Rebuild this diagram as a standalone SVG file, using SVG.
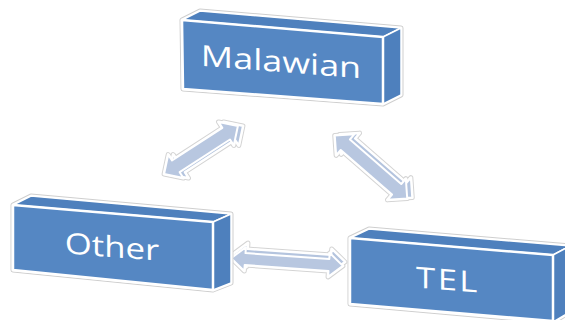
<svg xmlns="http://www.w3.org/2000/svg" width="565" height="320" viewBox="0 0 565 320">
<defs>
<style>
.sil{fill:#4A7BB8;stroke:#cfcfcf;stroke-width:5;stroke-linejoin:round}
.sil2{fill:none;stroke:#ffffff;stroke-width:3;stroke-linejoin:round}
.side{fill:#4E80BD;stroke:#ffffff;stroke-width:1.5;stroke-linejoin:round}
.front{fill:#5587C3;stroke:#ffffff;stroke-width:2.5;stroke-linejoin:round}
.lbl{fill:#ffffff;font-family:"Open Sans","DejaVu Sans",sans-serif;font-size:29px;text-anchor:middle}
.aback{fill:#B4C4DE;stroke:#ffffff;stroke-width:2;stroke-linejoin:round}
.afront{fill:#B8C7E0;stroke:#ffffff;stroke-width:2;stroke-linejoin:round}
.aout{fill:#ffffff;stroke:#d4d4d4;stroke-width:5;stroke-linejoin:round}
.aw{fill:#ffffff;stroke:#ffffff;stroke-width:3;stroke-linejoin:round}
</style>
</defs>

<g id="connectors">
  <g id="arrow-malawian-other">
    <polygon class="aout" transform="translate(206,150) rotate(-33)" points="-44,0 -30,-14 -30,-7 30,-7 30,-14 44,0 30,14 30,7 -30,7 -30,14"/>
    <polygon class="aout" transform="translate(201,150) rotate(-33)" points="-44,0 -30,-14 -30,-7 30,-7 30,-14 44,0 30,14 30,7 -30,7 -30,14"/>
    <polygon class="aw" transform="translate(206,150) rotate(-33)" points="-44,0 -30,-14 -30,-7 30,-7 30,-14 44,0 30,14 30,7 -30,7 -30,14"/>
    <polygon class="aw" transform="translate(201,150) rotate(-33)" points="-44,0 -30,-14 -30,-7 30,-7 30,-14 44,0 30,14 30,7 -30,7 -30,14"/>
    <polygon class="aback" transform="translate(206,150) rotate(-33)" points="-44,0 -30,-14 -30,-7 30,-7 30,-14 44,0 30,14 30,7 -30,7 -30,14"/>
    <polygon class="afront" transform="translate(201,150) rotate(-33)" points="-44,0 -30,-14 -30,-7 30,-7 30,-14 44,0 30,14 30,7 -30,7 -30,14"/>
  </g>
  <g id="arrow-malawian-tel">
    <polygon class="aout" transform="translate(376,166) rotate(41)" points="-48,0 -34,-14 -34,-7 34,-7 34,-14 48,0 34,14 34,7 -34,7 -34,14"/>
    <polygon class="aout" transform="translate(371,167) rotate(41)" points="-48,0 -34,-14 -34,-7 34,-7 34,-14 48,0 34,14 34,7 -34,7 -34,14"/>
    <polygon class="aw" transform="translate(376,166) rotate(41)" points="-48,0 -34,-14 -34,-7 34,-7 34,-14 48,0 34,14 34,7 -34,7 -34,14"/>
    <polygon class="aw" transform="translate(371,167) rotate(41)" points="-48,0 -34,-14 -34,-7 34,-7 34,-14 48,0 34,14 34,7 -34,7 -34,14"/>
    <polygon class="aback" transform="translate(376,166) rotate(41)" points="-48,0 -34,-14 -34,-7 34,-7 34,-14 48,0 34,14 34,7 -34,7 -34,14"/>
    <polygon class="afront" transform="translate(371,167) rotate(41)" points="-48,0 -34,-14 -34,-7 34,-7 34,-14 48,0 34,14 34,7 -34,7 -34,14"/>
  </g>
  <g id="arrow-other-tel">
    <polygon class="aout" transform="translate(289,258) rotate(4)" points="-56,0 -42,-12 -42,-6 42,-6 42,-12 56,0 42,12 42,6 -42,6 -42,12"/>
    <polygon class="aout" transform="translate(287,262) rotate(4)" points="-56,0 -42,-12 -42,-6 42,-6 42,-12 56,0 42,12 42,6 -42,6 -42,12"/>
    <polygon class="aw" transform="translate(289,258) rotate(4)" points="-56,0 -42,-12 -42,-6 42,-6 42,-12 56,0 42,12 42,6 -42,6 -42,12"/>
    <polygon class="aw" transform="translate(287,262) rotate(4)" points="-56,0 -42,-12 -42,-6 42,-6 42,-12 56,0 42,12 42,6 -42,6 -42,12"/>
    <polygon class="aback" transform="translate(289,258) rotate(4)" points="-56,0 -42,-12 -42,-6 42,-6 42,-12 56,0 42,12 42,6 -42,6 -42,12"/>
    <polygon class="afront" transform="translate(287,262) rotate(4)" points="-56,0 -42,-12 -42,-6 42,-6 42,-12 56,0 42,12 42,6 -42,6 -42,12"/>
  </g>
</g>

<g id="node-malawian">
  <polygon class="sil" points="182,20 200,11 401,28 401,95 383,104 183,89"/>
  <polygon class="sil2" points="182,20 200,11 401,28 401,95 383,104 183,89"/>
  <polygon class="side" points="182,20 200,11 401,28 383,37"/>
  <polygon class="side" points="383,37 401,28 401,95 383,104"/>
  <polygon class="front" points="182,20 383,37 383,104 183,89"/>
  <text class="lbl" transform="translate(281,72) skewY(4.5) scale(1.24,1)" x="0" y="0">Malawian</text>
</g>

<g id="node-other">
  <polygon class="sil" points="13,205 31,196 231,214 231,283 213,290 13,270"/>
  <polygon class="sil2" points="13,205 31,196 231,214 231,283 213,290 13,270"/>
  <polygon class="side" points="13,205 31,196 231,214 213,222"/>
  <polygon class="side" points="213,222 231,214 231,283 213,290"/>
  <polygon class="front" points="13,205 213,222 213,290 13,270"/>
  <text class="lbl" transform="translate(112,257) skewY(4.5) scale(1.2,1)" x="0" y="0">Other</text>
</g>

<g id="node-tel">
  <polygon class="sil" points="350,238 369,229 570,246 570,312 553,322 350,304"/>
  <polygon class="sil2" points="350,238 369,229 570,246 570,312 553,322 350,304"/>
  <polygon class="side" points="350,238 369,229 570,246 553,255"/>
  <polygon class="side" points="553,255 570,246 570,312 553,322"/>
  <polygon class="front" points="350,238 553,255 553,321 350,304"/>
  <text class="lbl" transform="translate(448,290) skewY(4.5) scale(1.2,1)" x="0" y="0" letter-spacing="2">TEL</text>
</g>
</svg>
